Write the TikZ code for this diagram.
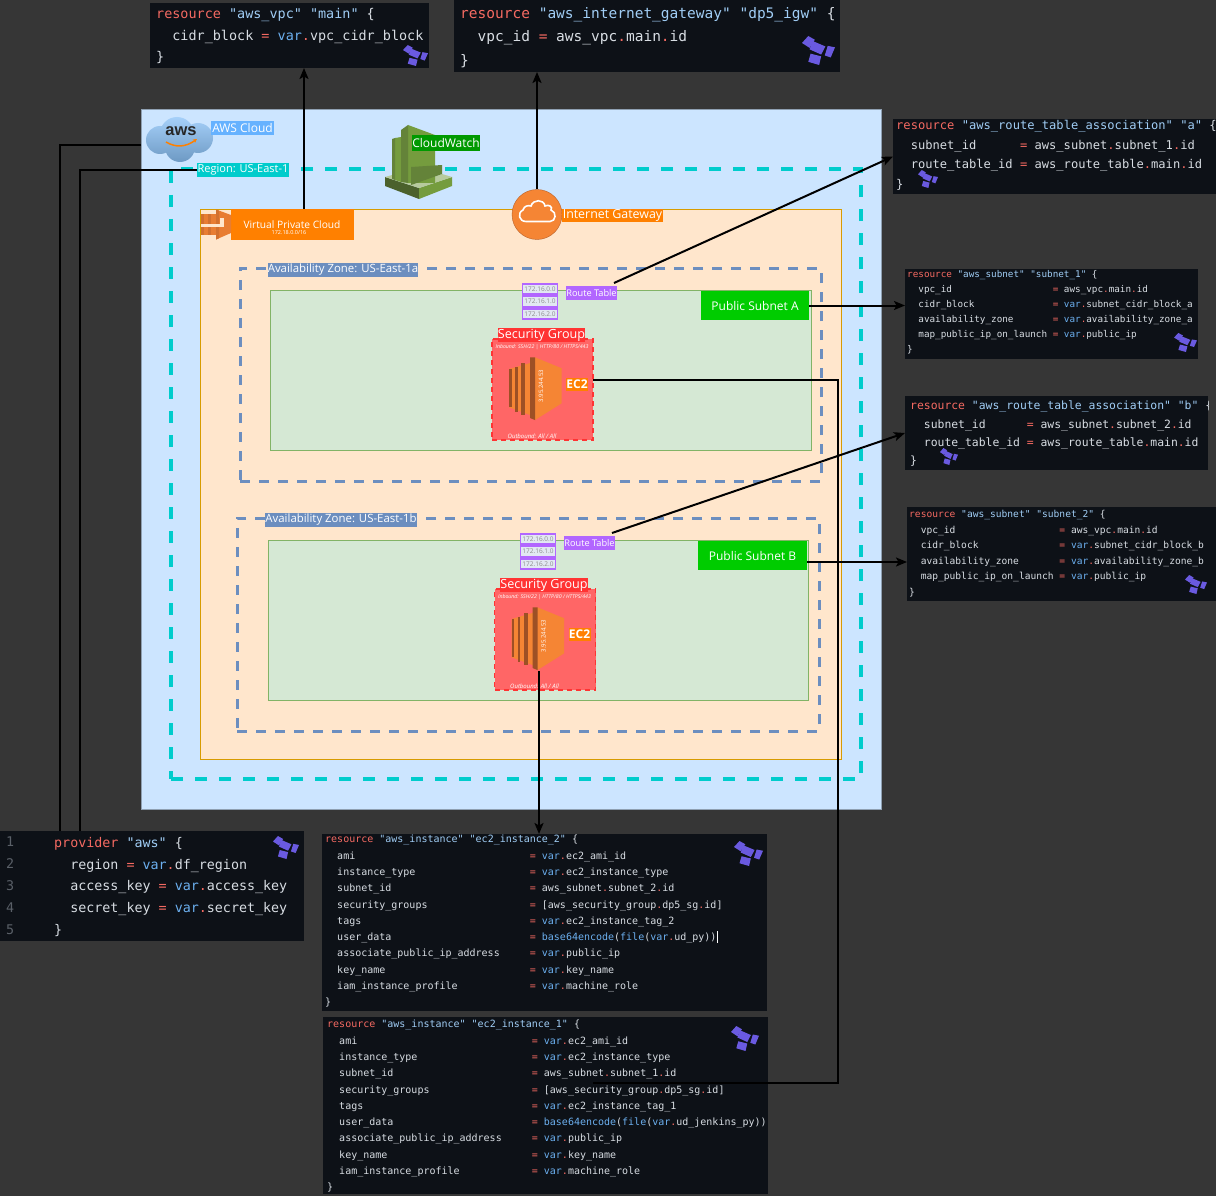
\documentclass[tikz,border=0pt]{standalone}
\usepackage{fontspec}
\setmainfont{Open Sans}
\newfontfamily\codefont{DejaVu Sans Mono}
\newfontfamily\logofont{Liberation Sans}
\usetikzlibrary{arrows.meta,calc}
\definecolor{page}{HTML}{363636}
\definecolor{panel}{HTML}{0D1117}
\definecolor{codetxt}{HTML}{D8DDE3}
\definecolor{codered}{HTML}{F56A62}
\definecolor{codestr}{HTML}{A0CDF5}
\definecolor{codevar}{HTML}{6CB0F0}
\definecolor{codenum}{HTML}{5A6068}
\definecolor{tfpurple}{HTML}{6A5AE0}
\definecolor{cloudfill}{HTML}{CCE5FF}
\definecolor{cloudtag}{HTML}{66B2FF}
\definecolor{vpcfill}{HTML}{FFE6CC}
\definecolor{vpcline}{HTML}{D79B00}
\definecolor{azline}{HTML}{6C8EBF}
\definecolor{subfill}{HTML}{D5E8D4}
\definecolor{subline}{HTML}{82B366}
\definecolor{regionc}{HTML}{00CCCC}
\definecolor{awsorange}{HTML}{FF8000}
\definecolor{iconlight}{HTML}{F58534}
\definecolor{icondark}{HTML}{9D5025}
\definecolor{sgfill}{HTML}{FF6666}
\definecolor{sgline}{HTML}{FF3333}
\definecolor{rtpurple}{HTML}{B266FF}
\definecolor{cwlight}{HTML}{759C3E}
\definecolor{cwmid}{HTML}{648339}
\definecolor{cwdark}{HTML}{4B612C}
\definecolor{cwpale}{HTML}{B7CA9D}
\newcommand{\cKw}[1]{\textcolor{codered}{#1}}
\newcommand{\cStr}[1]{\textcolor{codestr}{#1}}
\newcommand{\cDot}{\cKw{.}}
\newcommand{\cEq}{\cKw{=}}
\newcommand{\cVar}[1]{\textcolor{codevar}{var}\cDot#1}
\newcommand{\cFn}[1]{\textcolor{codevar}{#1}}
\newcommand{\cRow}[3]{\hspace*{1.204em}\makebox[\dimexpr .602em*#1\relax][l]{#2}\cEq\ #3}
\newcommand{\codesize}[2]{\codefont\fontsize{#1}{#2}\selectfont}
\newcommand{\tagsize}[1]{\fontsize{#1}{#1}\selectfont}
\tikzset{
	x=1pt, y=-1pt,
	code_panel/.style = {anchor=north west, fill=panel, inner sep=0pt, outer sep=0pt},
	code_text/.style = {anchor=north west, inner sep=0pt, align=left, text=codetxt},
	block/.style = {anchor=north west, inner sep=0pt, outer sep=0pt, line width=1pt},
	zone/.style = {block, draw=azline, line width=3pt, dash pattern=on 10pt off 9pt},
	tag/.style = {inner sep=0pt, outer sep=0pt, text=white, font=\tagsize{11}},
	wire/.style = {draw=black, line width=2pt},
	link/.style = {wire, -{Stealth[length=11pt,width=9pt,inset=2.5pt]}},
	pics/tflogo/.style = {code={
		\fill[tfpurple] (0,.24) -- (.19,0) -- (.39,.13) -- (.23,.41) -- cycle;
		\fill[tfpurple] (.32,.17) -- (.71,.36) -- (.58,.64) -- (.23,.46) -- cycle;
		\fill[tfpurple] (.78,.34) -- (1,.39) -- (.87,.74) -- (.69,.67) -- cycle;
		\fill[tfpurple] (.26,.61) -- (.58,.7) -- (.52,1) -- (.19,.89) -- cycle;
	}},
	pics/routes/.style = {code={
		\node[rtcidr] (-one) at (18,6) {172.16.0.0};
		\node[rtcidr] (-two) at (18,18.5) {172.16.1.0};
		\node[rtcidr] (-three) at (18,31) {172.16.2.0};
		\node[tag, fill=rtpurple, minimum width=51pt, minimum height=14pt, font=\tagsize{9.2}] (-label) at (69.5,10) {Route Table};
		\coordinate (-port) at (92,0);
	}},
	rtcidr/.style = {draw=rtpurple, fill=azline!20!white, line width=1.6pt, inner sep=0pt, minimum width=35pt, minimum height=10.5pt, text=black!45, font=\tagsize{6.5}},
	pics/secgroup/.style = {code={
		\node[block, fill=sgfill, draw=sgline, line width=1.5pt, dash pattern=on 5pt off 4pt, minimum width=101pt, minimum height=101pt] (-box) at (0,0) {};
		\node[tag, fill=sgline, minimum width=85pt, minimum height=14pt, font=\tagsize{12.6}] (-title) at (49.5,-4) {Security Group};
		\node[tag, font=\tagsize{5.2}\itshape] (-inbound) at (50,8) {Inbound: SSH/22 | HTTP/80 / HTTPS/443};
		\node[tag, font=\tagsize{6}\itshape] (-outbound) at (40,97) {Outbound: All / All};
		\fill[iconlight] (17,30) -- (38,24) -- (43,18.3) -- (69.7,29.3) -- (69.7,64.3) -- (43,81) -- (38,76) -- (17,68.3) -- cycle;
		\fill[icondark] (17,30.3) rectangle (19.7,68.3);
		\fill[icondark] (23,27.7) rectangle (25.7,72.7);
		\fill[icondark] (29,23.7) rectangle (33,76);
		\fill[icondark] (38,18.3) -- (43,18.3) -- (43,81) -- (38,79) -- cycle;
		\node[tag, rotate=90, font=\tagsize{6}] (-ip) at (49,47) {3.95.244.53};
		\node[tag, fill=awsorange, minimum width=22pt, minimum height=13pt, font=\tagsize{12}\bfseries] (-name) at (85,45.5) {EC2};
		\coordinate (-port) at (101,41);
		\coordinate (-base) at (44.5,82);
	}}
}
\begin{document}
\begin{tikzpicture}
	\useasboundingbox (0,0) rectangle (1216,1196);
	\fill[page] (0,0) rectangle (1216,1196);

	\node[block, fill=cloudfill, draw=cloudfill!70!black, minimum width=740pt, minimum height=699pt] (cloudbox) at (141,110) {};
	\node[block, draw=regionc, line width=3.5pt, dash pattern=on 12pt off 12pt, minimum width=690pt, minimum height=610pt] (regionbox) at (171,169) {};
	\node[block, fill=vpcfill, draw=vpcline, minimum width=641pt, minimum height=550pt] (vpcbox) at (200,209) {};
	\node[zone, minimum width=581pt, minimum height=213pt] (zonea) at (240,268) {};
	\node[zone, minimum width=582pt, minimum height=213pt] (zoneb) at (237,518) {};
	\node[block, fill=subfill, draw=subline, minimum width=541pt, minimum height=160pt] (subneta) at (270,290) {};
	\node[block, fill=subfill, draw=subline, minimum width=540pt, minimum height=160pt] (subnetb) at (268,540) {};

	\shade[top color=cloudfill!60!codevar, bottom color=codevar!70!cloudfill!80!black] (160,140) circle[radius=14pt] (177,134) circle[radius=17pt] (198,138) circle[radius=15pt] (180,147) circle[radius=15pt];
	\node[inner sep=0pt, text=black!85, font=\logofont\bfseries\tagsize{16.5}] (awslogo) at (181,131) {aws};
	\draw[awsorange, line width=1.5pt, -{Stealth[length=4pt,width=4pt]}] (166,142) .. controls (176,148) and (186,147) .. (197,139);
	\node[tag, fill=cloudtag, minimum width=63pt, minimum height=14pt, font=\tagsize{12}] (awstag) at (242.5,128) {AWS Cloud};
	\node[tag, fill=regionc, minimum width=92pt, minimum height=14pt] (regiontag) at (243,170) {Region: US-East-1};

	\fill[cwdark] (385,177) -- (419,188) -- (419,199) -- (385,186) -- cycle;
	\fill[cwlight] (419,188) -- (452,177) -- (452,186) -- (419,199) -- cycle;
	\fill[cwpale] (385,177) -- (392,175) -- (419,182) -- (442,174) -- (452,177) -- (419,188) -- cycle;
	\fill[cwlight] (395,138) -- (401,137) -- (401,182) -- (395,180) -- cycle;
	\fill[cwmid] (392,139) -- (395,138) -- (395,180) -- (392,179) -- cycle;
	\fill[cwlight] (408,125) -- (435,135) -- (435,183) -- (408,183) -- cycle;
	\fill[cwmid] (401,130) -- (408,125) -- (408,183) -- (401,182) -- cycle;
	\fill[cwmid] (411,167) -- (442,165) -- (442,174) -- (411,185) -- cycle;
	\node[tag, fill=green!60!black, minimum width=68pt, minimum height=16pt, font=\tagsize{12}] (cwtag) at (446,143) {CloudWatch};

	\node[block, fill=awsorange, minimum width=123pt, minimum height=31pt] (vpctag) at (231,209) {};
	\node[tag, font=\tagsize{10.2}] (vpcname) at (292,225) {Virtual Private Cloud};
	\node[tag, font=\tagsize{5.5}] (vpccidr) at (289,232.5) {172.18.0.0/16};
	\fill[iconlight!85!icondark] (200.5,214) rectangle (216,235);
	\fill[iconlight!60!icondark] (200.5,214) rectangle (204,235);
	\fill[iconlight!60!icondark] (208,214) rectangle (211,235);
	\fill[iconlight!85!icondark] (216,209.5) -- (231,215) -- (231,233) -- (216,239.5) -- cycle;
	\fill[iconlight!60!icondark] (216,209.5) -- (219,210.6) -- (219,238.3) -- (216,239.5) -- cycle;
	\fill[vpcfill] (200.5,224) rectangle (222,227);
	\fill[vpcfill] (220,218) rectangle (224,227);

	\node[circle, fill=iconlight, draw=icondark!70!iconlight, inner sep=0pt, outer sep=0pt, minimum size=50pt] (igwicon) at (537,214.5) {};
	\draw[white, line width=1.6pt] (526,221.5) .. controls (519,221.5) and (517,213) .. (523,210) .. controls (524,206) and (528,205) .. (531,206) .. controls (533,199) and (544,199) .. (545,206) .. controls (549,204) and (553,207) .. (551,210) .. controls (557,212) and (556,221.5) .. (550,221.5) -- cycle;
	\node[tag, fill=awsorange, minimum width=101pt, minimum height=13pt, font=\tagsize{12.4}] (igwtag) at (612.5,215.5) {Internet Gateway};

	\node[tag, fill=azline, minimum width=150pt, minimum height=14pt, font=\tagsize{11.4}] (zoneatag) at (343,270) {Availability Zone: US-East-1a};
	\node[tag, fill=azline, minimum width=150pt, minimum height=14pt, font=\tagsize{11.4}] (zonebtag) at (341,520) {Availability Zone: US-East-1b};
	\node[tag, fill=green!80!black, minimum width=108pt, minimum height=29pt, font=\tagsize{12}] (subatag) at (755,305.5) {Public Subnet A};
	\node[tag, fill=green!80!black, minimum width=109pt, minimum height=29pt, font=\tagsize{12}] (subbtag) at (752.5,555.5) {Public Subnet B};

	\pic (rta) at (522,283) {routes};
	\pic (rtb) at (520,533) {routes};
	\pic (sga) at (492,339) {secgroup};
	\pic (sgb) at (494.5,589) {secgroup};

	\coordinate (cloudport) at (141,145);
	\coordinate (vpcport) at (304,209);
	\coordinate (subbport) at (807,562);
	\coordinate (provleft) at (60,831);
	\coordinate (provright) at (80,831);
	\draw[wire] (cloudport) -| (provleft);
	\draw[wire] (regiontag.west) -| (provright);

	\node[code_panel, minimum width=279pt, minimum height=65pt] (vpcpanel) at (150,3) {};
	\node[code_text, font=\codesize{13.45}{21.5}] (vpccode) at (156,8.5) {\cKw{resource} \cStr{"aws\_vpc"} \cStr{"main"} \{\\
		\hspace*{1.204em}cidr\_block \cEq\ \cVar{vpc\_cidr\_block}\\
		\}};
	\pic[xscale=25,yscale=21] at (403,45) {tflogo};

	\node[code_panel, minimum width=386pt, minimum height=72pt] (igwpanel) at (454,0) {};
	\node[code_text, font=\codesize{14.5}{23.5}] (igwcode) at (460,7) {\cKw{resource} \cStr{"aws\_internet\_gateway"} \cStr{"dp5\_igw"} \{\\
		\hspace*{1.204em}vpc\_id \cEq\ aws\_vpc\cDot main\cDot id\\
		\}};
	\pic[xscale=33,yscale=29] at (802,36) {tflogo};

	\node[code_panel, minimum width=323pt, minimum height=75pt] (rtapanel) at (893,119) {};
	\node[code_text, font=\codesize{12.1}{19.7}] (rtacode) at (896,120) {\cKw{resource} \cStr{"aws\_route\_table\_association"} \cStr{"a"} \{\\
		\cRow{15}{subnet\_id}{aws\_subnet\cDot subnet\_1\cDot id}\\
		\cRow{15}{route\_table\_id}{aws\_route\_table\cDot main\cDot id}\\
		\}};
	\pic[xscale=20,yscale=18] at (918,170) {tflogo};

	\node[code_panel, minimum width=293pt, minimum height=90pt] (subapanel) at (905,269) {};
	\node[code_text, font=\codesize{9.3}{15}] (subacode) at (907,270) {\cKw{resource} \cStr{"aws\_subnet"} \cStr{"subnet\_1"} \{\\
		\cRow{24}{vpc\_id}{aws\_vpc\cDot main\cDot id}\\
		\cRow{24}{cidr\_block}{\cVar{subnet\_cidr\_block\_a}}\\
		\cRow{24}{availability\_zone}{\cVar{availability\_zone\_a}}\\
		\cRow{24}{map\_public\_ip\_on\_launch}{\cVar{public\_ip}}\\
		\}};
	\pic[xscale=23,yscale=19] at (1174,333) {tflogo};

	\node[code_panel, minimum width=303pt, minimum height=74pt] (rtbpanel) at (905,396) {};
	\begin{scope}
		\clip (905,396) rectangle (1208,470);
		\node[code_text, font=\codesize{11.4}{18.3}] (rtbcode) at (910,401) {\cKw{resource} \cStr{"aws\_route\_table\_association"} \cStr{"b"} \{\\
			\cRow{15}{subnet\_id}{aws\_subnet\cDot subnet\_2\cDot id}\\
			\cRow{15}{route\_table\_id}{aws\_route\_table\cDot main\cDot id}\\
			\}};
	\end{scope}
	\pic[xscale=18,yscale=17] at (940,448) {tflogo};

	\node[code_panel, minimum width=309pt, minimum height=94pt] (subbpanel) at (907,507) {};
	\node[code_text, font=\codesize{9.6}{15.6}] (subbcode) at (909,510) {\cKw{resource} \cStr{"aws\_subnet"} \cStr{"subnet\_2"} \{\\
		\cRow{24}{vpc\_id}{aws\_vpc\cDot main\cDot id}\\
		\cRow{24}{cidr\_block}{\cVar{subnet\_cidr\_block\_b}}\\
		\cRow{24}{availability\_zone}{\cVar{availability\_zone\_b}}\\
		\cRow{24}{map\_public\_ip\_on\_launch}{\cVar{public\_ip}}\\
		\}};
	\pic[xscale=22,yscale=19] at (1185,575) {tflogo};

	\node[code_panel, minimum width=304pt, minimum height=110pt] (provpanel) at (0,831) {};
	\node[code_text, text=codenum, font=\codesize{13.35}{21.8}] (provnums) at (6,837) {1\\2\\3\\4\\5};
	\node[code_text, font=\codesize{13.35}{21.8}] (provcode) at (54,837) {\cKw{provider} \cStr{"aws"} \{\\
		\hspace*{1.204em}region \cEq\ \cVar{df\_region}\\
		\hspace*{1.204em}access\_key \cEq\ \cVar{access\_key}\\
		\hspace*{1.204em}secret\_key \cEq\ \cVar{secret\_key}\\
		\}};
	\pic[xscale=26,yscale=23] at (273,836) {tflogo};

	\node[code_panel, minimum width=445pt, minimum height=177pt] (ec2bpanel) at (322,834) {};
	\node[code_text, font=\codesize{10}{16.3}] (ec2bcode) at (325,835) {\cKw{resource} \cStr{"aws\_instance"} \cStr{"ec2\_instance\_2"} \{\\
		\cRow{32}{ami}{\cVar{ec2\_ami\_id}}\\
		\cRow{32}{instance\_type}{\cVar{ec2\_instance\_type}}\\
		\cRow{32}{subnet\_id}{aws\_subnet\cDot subnet\_2\cDot id}\\
		\cRow{32}{security\_groups}{[aws\_security\_group\cDot dp5\_sg\cDot id]}\\
		\cRow{32}{tags}{\cVar{ec2\_instance\_tag\_2}}\\
		\cRow{32}{user\_data}{\cFn{base64encode}(\cFn{file}(\cVar{ud\_py}))\textcolor{white}{\rule[-.25em]{.8pt}{1.25em}}}\\
		\cRow{32}{associate\_public\_ip\_address}{\cVar{public\_ip}}\\
		\cRow{32}{key\_name}{\cVar{key\_name}}\\
		\cRow{32}{iam\_instance\_profile}{\cVar{machine\_role}}\\
		\}};
	\pic[xscale=29,yscale=25] at (734,841) {tflogo};

	\node[code_panel, minimum width=445pt, minimum height=177pt] (ec2apanel) at (323,1017) {};
	\node[code_text, font=\codesize{10}{16.3}] (ec2acode) at (327,1020) {\cKw{resource} \cStr{"aws\_instance"} \cStr{"ec2\_instance\_1"} \{\\
		\cRow{32}{ami}{\cVar{ec2\_ami\_id}}\\
		\cRow{32}{instance\_type}{\cVar{ec2\_instance\_type}}\\
		\cRow{32}{subnet\_id}{aws\_subnet\cDot subnet\_1\cDot id}\\
		\cRow{32}{security\_groups}{[aws\_security\_group\cDot dp5\_sg\cDot id]}\\
		\cRow{32}{tags}{\cVar{ec2\_instance\_tag\_1}}\\
		\cRow{32}{user\_data}{\cFn{base64encode}(\cFn{file}(\cVar{ud\_jenkins\_py}))}\\
		\cRow{32}{associate\_public\_ip\_address}{\cVar{public\_ip}}\\
		\cRow{32}{key\_name}{\cVar{key\_name}}\\
		\cRow{32}{iam\_instance\_profile}{\cVar{machine\_role}}\\
		\}};
	\pic[xscale=28,yscale=25] at (731,1026) {tflogo};

	\coordinate (ec2turn) at (838,1083);
	\coordinate (ec2end) at (593,1083);
	\draw[link] (vpcport) -- (vpcport |- vpcpanel.south);
	\draw[link] (igwicon.north) -- (igwicon.north |- igwpanel.south);
	\draw[link] (rta-port) -- (rtapanel.west);
	\draw[link] (rtb-port) -- (rtbpanel.west);
	\draw[link] (subatag.east) -- (subatag.east -| subapanel.west);
	\draw[link] (subbport) -- (subbport -| subbpanel.west);
	\draw[link] (sgb-base) -- (sgb-base |- ec2bpanel.north);
	\draw[wire] (sga-port) -| (ec2turn) -- (ec2end);
\end{tikzpicture}
\end{document}
